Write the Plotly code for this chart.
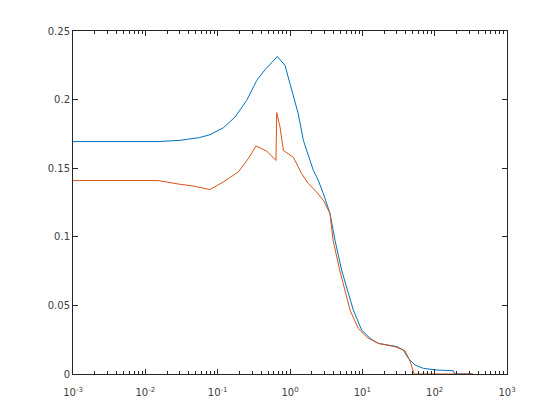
import plotly.graph_objects as go

blue_x = [0.001, 0.015, 0.030, 0.046, 0.056, 0.078, 0.12, 0.174, 0.252, 0.347, 0.452,
          0.668, 0.853, 1.0, 1.30, 1.53, 2.10, 2.46, 2.89, 3.57, 4.19, 5.17, 6.07, 7.5,
          9.78, 12.8, 16.6, 24.2, 30.0, 36.8, 43.3, 53.5, 70, 107, 181, 190, 340]
blue_y = [0.1694, 0.1694, 0.1703, 0.1715, 0.1723, 0.1744, 0.1795, 0.1873, 0.1994, 0.214, 0.2218,
          0.2314, 0.2249, 0.2116, 0.1897, 0.1703, 0.1485, 0.1412, 0.1315, 0.117, 0.0975, 0.0757, 0.0635, 0.0466,
          0.032, 0.026, 0.0223, 0.0211, 0.0200, 0.0175, 0.0114, 0.0065, 0.0041, 0.0029, 0.0024, 0.0, 0.0]

orange_x = [0.001, 0.015, 0.030, 0.046, 0.078, 0.12, 0.193, 0.265, 0.339, 0.476, 0.64,
            0.645, 0.655, 0.728, 0.81, 0.94, 1.11, 1.45, 1.79, 2.22, 2.89, 3.57, 3.94,
            4.87, 6.07, 6.75, 8.79, 11.6, 16.6, 24.2, 28.3, 38.8, 46, 52, 340]
orange_y = [0.141, 0.141, 0.1383, 0.137, 0.1344, 0.140, 0.1473, 0.157, 0.1662, 0.1625, 0.1557,
            0.1800, 0.1905, 0.180, 0.163, 0.1606, 0.158, 0.146, 0.1388, 0.1339, 0.1266, 0.117, 0.0975,
            0.0757, 0.055, 0.0466, 0.0332, 0.0267, 0.0223, 0.0204, 0.0199, 0.017, 0.009, 0.0, 0.0]

x_ticks = [0.001, 0.01, 0.1, 1, 10, 100, 1000]
x_labels = ["10<sup>-3</sup>", "10<sup>-2</sup>", "10<sup>-1</sup>", "10<sup>0</sup>",
            "10<sup>1</sup>", "10<sup>2</sup>", "10<sup>3</sup>"]
y_ticks = [0, 0.05, 0.1, 0.15, 0.2, 0.25]
y_labels = ["0", "0.05", "0.1", "0.15", "0.2", "0.25"]

fig = go.Figure()
fig.add_trace(go.Scatter(x=blue_x, y=blue_y, mode="lines",
                         line=dict(color="#0072BD", width=1)))
fig.add_trace(go.Scatter(x=orange_x, y=orange_y, mode="lines",
                         line=dict(color="#D95319", width=1)))

axis_common = dict(showline=True, linecolor="#262626", linewidth=1, mirror="ticks",
                   ticks="inside", tickcolor="#262626", ticklen=5, showgrid=False,
                   zeroline=False, automargin=False,
                   tickfont=dict(family="DejaVu Sans", size=10, color="#404040"))

fig.update_xaxes(type="log", range=[-3, 3], tickvals=x_ticks, ticktext=x_labels,
                 ticklabelstandoff=9,
                 minor=dict(ticks="inside", ticklen=3, tickcolor="#262626", showgrid=False,
                            tickvals=[m * 10 ** e for e in range(-3, 3) for m in range(2, 10)]),
                 **axis_common)
fig.update_yaxes(range=[0, 0.25], tickvals=y_ticks, ticktext=y_labels, **axis_common)

fig.update_layout(width=560, height=420, showlegend=False,
                  paper_bgcolor="white", plot_bgcolor="white",
                  margin=dict(l=65, r=61, t=23, b=54))

fig.write_html("out.html")
